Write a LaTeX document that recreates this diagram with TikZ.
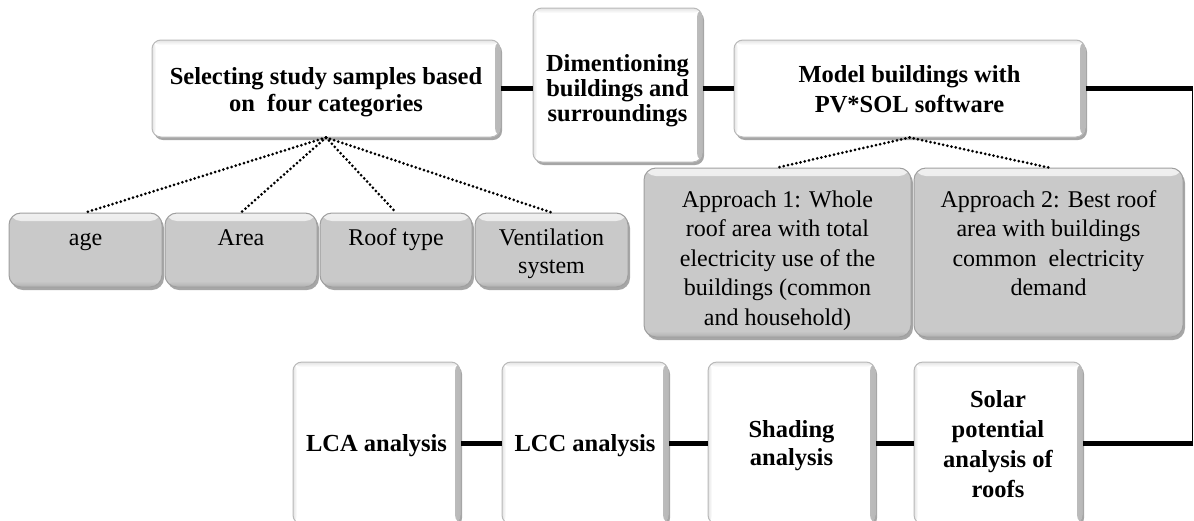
\documentclass[tikz,border=0pt]{standalone}
\usepackage{fontspec}
\setmainfont{Liberation Serif}
\usetikzlibrary{shadows}
\tikzset{
  wbox/.style={rectangle, rounded corners=9pt, fill=white, draw=gray!55, line width=1pt,
    inner sep=0pt,
    drop shadow={shadow xshift=2pt, shadow yshift=-3pt, fill=black, opacity=0.35},
    path picture={
      \fill[left color=white, right color=gray!55] ([xshift=-5pt]path picture bounding box.north east) rectangle (path picture bounding box.south east);
      \fill[left color=gray!22, right color=white] (path picture bounding box.north west) rectangle ([xshift=4pt]path picture bounding box.south west);
      \fill[top color=gray!22, bottom color=white] (path picture bounding box.north west) rectangle ([yshift=-5pt]path picture bounding box.north east);
    }},
  wtext/.style={align=center, inner sep=0pt, font=\fontsize{24.5}{27.5}\selectfont\bfseries},
  gbox/.style={rectangle, rounded corners=12pt, fill=gray!42, draw=gray!75, line width=1pt,
    inner sep=0pt,
    drop shadow={shadow xshift=2pt, shadow yshift=-3pt, fill=black, opacity=0.35},
    path picture={
      \fill[top color=gray!12, bottom color=gray!42] (path picture bounding box.north west) rectangle ([yshift=-8pt]path picture bounding box.north east);
      \fill[top color=gray!42, bottom color=gray!62] ([yshift=6pt]path picture bounding box.south west) rectangle (path picture bounding box.south east);
    }},
  gtext/.style={align=center, inner sep=0pt, anchor=north, font=\fontsize{24}{29.5}\selectfont},
  link/.style={line width=5pt, black},
  thinlink/.style={line width=1.3pt, black},
  dots/.style={line width=3pt, dash pattern=on 0pt off 4.3pt, line cap=round, black}
}
\begin{document}
\begin{tikzpicture}[x=1pt, y=-1pt]
\useasboundingbox (0,0) rectangle (1194,520);
\fill[white] (0,0) rectangle (1194,520);

% top row
\node[wbox, minimum width=348pt, minimum height=97pt] (sel) at (326,88.5) {};
\node[wbox, minimum width=169pt, minimum height=154pt] (dim) at (617.5,85) {};
\node[wbox, minimum width=351pt, minimum height=97pt] (mod) at (909.5,88.5) {};
\node[wtext] (seltxt) at ([yshift=-3.5pt]sel.center) {Selecting study samples based\\on\ \ four categories};
\node[wtext, font=\fontsize{24.5}{25}\selectfont\bfseries] (dimtxt) at ([yshift=-6pt]dim.center) {Dimentioning\\buildings and\\surroundings};
\node[wtext, font=\fontsize{24.5}{30}\selectfont\bfseries] (modtxt) at ([yshift=-1pt]mod.center) {Model buildings with\\PV*SOL software};

% categories
\node[gbox, minimum width=153pt, minimum height=74pt] (age) at (85.5,250) {};
\node[gbox, minimum width=152pt, minimum height=74pt] (area) at (241,250) {};
\node[gbox, minimum width=152pt, minimum height=74pt] (roof) at (396,250) {};
\node[gbox, minimum width=153pt, minimum height=74pt] (vent) at (551.5,250) {};
\node[gtext] (agetxt) at (85.5,224.3) {\strut age};
\node[gtext] (areatxt) at (241,224.3) {\strut Area};
\node[gtext] (rooftxt) at (396,224.3) {\strut Roof type};
\node[gtext, font=\fontsize{24}{28.5}\selectfont] (venttxt) at (551.5,225) {\strut Ventilation\\system};

% approaches
\node[gbox, minimum width=267pt, minimum height=169pt] (ap1) at (777.5,252.5) {};
\node[gbox, minimum width=269pt, minimum height=169pt] (ap2) at (1048.5,252.5) {};
\node[gtext] (ap1txt) at (777.5,186.3) {\strut Approach 1: Whole\\roof area with total\\electricity use of the\\buildings (common\\and household)};
\node[gtext] (ap2txt) at (1048.5,186.3) {\strut Approach 2: Best roof\\area with buildings\\common\ \ electricity\\demand};

% bottom row
\node[wbox, minimum width=167pt, minimum height=162pt] (lca) at (376.5,443) {};
\node[wbox, minimum width=166pt, minimum height=162pt] (lcc) at (585,443) {};
\node[wbox, minimum width=167pt, minimum height=162pt] (sha) at (791.5,443) {};
\node[wbox, minimum width=168pt, minimum height=162pt] (sol) at (998,443) {};
\node[wtext] (lcatxt) at ([yshift=-3pt]lca.center) {LCA analysis};
\node[wtext] (lcctxt) at ([yshift=-3pt]lcc.center) {LCC analysis};
\node[wtext, font=\fontsize{24.5}{28}\selectfont\bfseries] (shatxt) at ([yshift=-3pt]sha.center) {Shading\\analysis};
\node[wtext, font=\fontsize{24.5}{30}\selectfont\bfseries] (soltxt) at ([yshift=-1pt]sol.center) {Solar\\potential\\analysis of\\roofs};

% connectors
\coordinate (rx) at (1192.5,0);
\draw[link] (sel.east) -- (sel.east -| dim.west);
\draw[link] (dim.east |- mod.west) -- (mod.west);
\draw[link] (mod.east) -- ([xshift=0.6pt]mod.east -| rx);
\draw[thinlink] (mod.east -| rx) -- (sol.east -| rx);
\draw[link] ([xshift=0.6pt]sol.east -| rx) -- (sol.east);
\draw[link] (sol.west) -- (sha.east);
\draw[link] (sha.west) -- (lcc.east);
\draw[link] (lcc.west) -- (lca.east);

% dotted links
\draw[dots] (sel.south) -- (age.north);
\draw[dots] (sel.south) -- (area.north);
\draw[dots] (sel.south) -- (roof.north);
\draw[dots] (sel.south) -- (vent.north);
\draw[dots] (mod.south) -- (ap1.north);
\draw[dots] (mod.south) -- (ap2.north);
\end{tikzpicture}
\end{document}
